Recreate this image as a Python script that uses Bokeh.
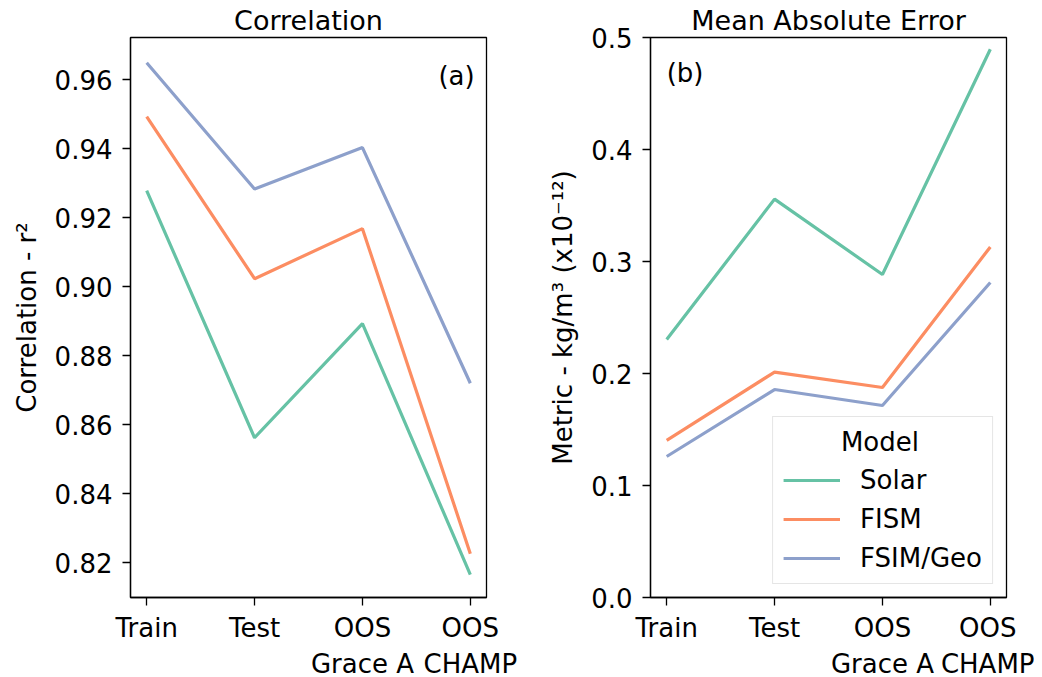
from bokeh.plotting import figure
from bokeh.layouts import row
from bokeh.models import FixedTicker, Label, Legend, LegendItem, Range1d
from bokeh.embed import file_html
from bokeh.resources import INLINE

# ---- data ----
categories = ["Train", "Test", "OOS\nGrace A", "OOS\nCHAMP"]
models = ["Solar", "FISM", "FSIM/Geo"]
colors = ["#66c2a5", "#fc8d62", "#8da0cb"]

corr_solar = [0.9278, 0.8562, 0.8893, 0.8165]
corr_fism = [0.9493, 0.9023, 0.9168, 0.8226]
corr_fsim_geo = [0.9649, 0.9283, 0.9403, 0.8720]

mae_solar = [0.2304, 0.3557, 0.2884, 0.4895]
mae_fism = [0.1402, 0.2013, 0.1875, 0.3130]
mae_fsim_geo = [0.1259, 0.1857, 0.1714, 0.2813]

corr_ticks = [0.82, 0.84, 0.86, 0.88, 0.90, 0.92, 0.94, 0.96]
mae_ticks = [0.0, 0.1, 0.2, 0.3, 0.4, 0.5]

FONT = "DejaVu Sans"
FS = "26px"
idx = list(range(len(categories)))


def make_fig(title, ylabel, yr, yticks, series, tick_fmt, left, right):
    p = figure(frame_width=356, frame_height=560, output_backend="svg",
               toolbar_location=None, title=title,
               x_range=Range1d(-0.15, 3.15), y_range=Range1d(*yr),
               min_border_left=left, min_border_top=30, min_border_right=right,
               min_border_bottom=10)
    p.title.align = "center"
    p.title.text_font = FONT
    p.title.text_font_size = "27px"
    p.title.text_font_style = "normal"
    p.title.text_color = "black"
    p.title.standoff = 4
    p.xgrid.visible = False
    p.ygrid.visible = False
    p.outline_line_color = "black"
    p.outline_line_width = 1.3
    p.outline_line_alpha = 1
    for ax in (p.xaxis[0], p.yaxis[0]):
        ax.major_label_text_font = FONT
        ax.major_label_text_font_size = FS
        ax.major_label_text_color = "black"
        ax.axis_line_color = "black"
        ax.axis_line_width = 1.3
        ax.major_tick_line_color = "black"
        ax.major_tick_line_width = 1.3
        ax.major_tick_out = 8
        ax.major_tick_in = 0
        ax.minor_tick_out = 0
        ax.minor_tick_in = 0
        ax.major_label_standoff = 10
    p.xaxis.major_label_standoff = 7
    p.xaxis.ticker = FixedTicker(ticks=idx)
    p.xaxis.major_label_overrides = {i: c for i, c in enumerate(categories)}
    p.yaxis.ticker = FixedTicker(ticks=yticks)
    p.yaxis.major_label_overrides = {t: tick_fmt.format(t) for t in yticks}
    p.yaxis.axis_label = ylabel
    p.yaxis.axis_label_text_font = FONT
    p.yaxis.axis_label_text_font_size = FS
    p.yaxis.axis_label_text_font_style = "normal"
    p.yaxis.axis_label_text_color = "black"
    p.yaxis.axis_label_standoff = 10
    renderers = []
    for vals, c in zip(series, colors):
        r = p.line(idx, vals, line_color=c, line_width=3.2)
        renderers.append(r)
    return p, renderers


p1, _ = make_fig("Correlation", "Correlation - r\u00b2", (0.8099, 0.9722),
                 corr_ticks, [corr_solar, corr_fism, corr_fsim_geo], "{:.2f}",
                 130, 42)
p1.add_layout(Label(x=3.04, y=0.9655, text="(a)", text_align="right",
                    text_baseline="top", text_font=FONT, text_font_size=FS,
                    text_color="black"))

p2, rs = make_fig("Mean Absolute Error", "Metric - kg/m\u00b3 (x10\u207b\u00b9\u00b2)",
                  (0.0, 0.5), mae_ticks,
                  [mae_solar, mae_fism, mae_fsim_geo], "{:.1f}", 122, 28)
p2.add_layout(Label(x=0.0, y=0.482, text="(b)", text_align="left",
                    text_baseline="top", text_font=FONT, text_font_size=FS,
                    text_color="black"))

legend = Legend(items=[LegendItem(label=m, renderers=[r]) for m, r in zip(models, rs)],
                location="bottom_right",
                title="\u00a0\u00a0\u00a0\u00a0\u00a0\u00a0\u00a0Model")
legend.title_text_font = FONT
legend.title_text_font_size = FS
legend.title_text_font_style = "normal"
legend.title_text_color = "black"
legend.label_text_font = FONT
legend.label_text_font_size = FS
legend.label_text_color = "black"
legend.glyph_width = 57
legend.glyph_height = 30
legend.label_standoff = 20
legend.label_height = 30
legend.spacing = 9
legend.padding = 10
legend.margin = 13
legend.border_line_color = "#cccccc"
legend.border_line_width = 1.5
legend.background_fill_alpha = 0.8
legend.title_standoff = 8
p2.add_layout(legend)

layout = row(p1, p2)
open("out.html", "w").write(file_html(layout, INLINE))
